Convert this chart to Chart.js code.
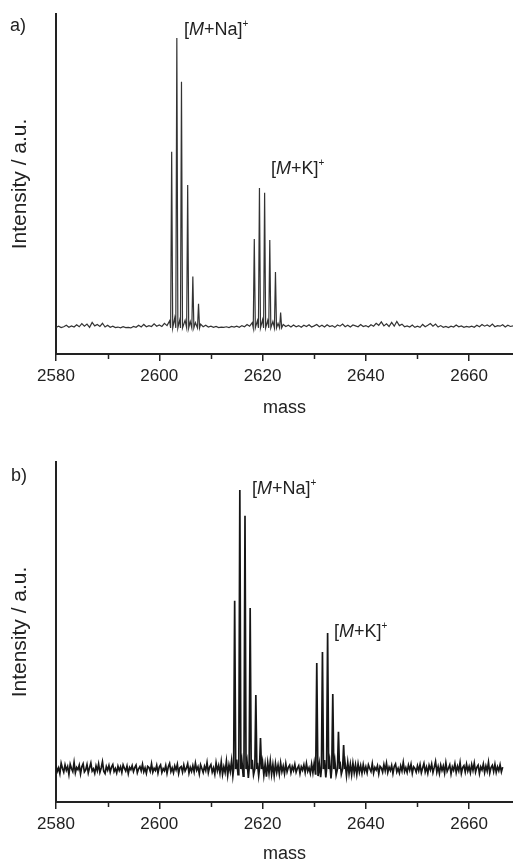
<!DOCTYPE html>
<html>
<head>
<meta charset="utf-8">
<script src="https://cdn.jsdelivr.net/npm/chart.js@4"></script>
<style>
  html, body { margin: 0; padding: 0; background: #fff; overflow: hidden; }
  body { width: 513px; height: 863px; position: relative; font-family: "Liberation Sans", Arial, sans-serif; color: #222; }
  canvas { position: absolute; left: 0; }
  #chartA { top: 0; }
  #chartB { top: 430px; }
  .lbl { position: absolute; font-size: 18px; line-height: 20px; white-space: nowrap; }
  .lbl i { font-style: italic; }
  .lbl sup { font-size: 10px; vertical-align: 8px; line-height: 0; }
</style>
</head>
<body>
<canvas id="chartA" width="513" height="430"></canvas>
<canvas id="chartB" width="513" height="435"></canvas>

<div class="lbl" style="left:10px; top:15px;">a)</div>
<div class="lbl" style="left:184px; top:19px;">[<i>M</i>+Na]<sup>+</sup></div>
<div class="lbl" style="left:271px; top:158px;">[<i>M</i>+K]<sup>+</sup></div>

<div class="lbl" style="left:11px; top:465px;">b)</div>
<div class="lbl" style="left:252px; top:478px;">[<i>M</i>+Na]<sup>+</sup></div>
<div class="lbl" style="left:334px; top:621px;">[<i>M</i>+K]<sup>+</sup></div>

<script>
// shared axis settings
const massMin = 2580;
const massMax = 2668.5;
const majorTicks = [2580, 2600, 2620, 2640, 2660];
const minorTicks = [2590, 2610, 2630, 2650];

// panel a: isotope peaks (mass, relative intensity)
const peakMassA = [2602.4, 2603.4, 2604.3, 2605.5, 2606.5, 2607.6,
                   2618.4, 2619.4, 2620.4, 2621.4, 2622.5, 2623.5];
const peakIntA  = [60.8, 100, 84.9, 49.3, 17.7, 8.3,
                   30.7, 48.3, 46.6, 30.3, 19.3, 5.3];
// panel a: baseline noise, one value every 0.5 from 2580
const noiseStepA = 0.5;
const noiseA = [
  0.2,0.6,0.1,0.4,0.9,0.2,0.7,0.3,1.1,0.4,1.5,0.6,1.3,0.2,1.9,0.7,1.2,0.5,1.6,0.3,
  0.9,0.2,0.6,0.1,0.3,0.0,0.4,0.1,0.2,0.0,0.5,0.2,0.9,0.3,1.2,0.4,0.8,0.5,1.4,0.6,
  1.0,0.5,1.6,0.8,2.4,1.5,3.5,1.8,3.0,1.6,2.6,1.2,2.2,0.9,1.8,0.6,1.3,0.4,0.9,0.3,
  0.6,0.2,0.5,0.1,0.3,0.2,0.4,0.1,0.5,0.3,0.6,0.2,0.8,0.4,1.2,0.6,1.8,1.2,2.5,1.5,
  2.8,1.8,2.6,1.6,2.2,1.0,1.6,0.7,1.2,0.5,0.9,0.3,1.0,0.4,0.8,0.2,0.9,0.5,1.1,0.3,
  0.7,1.2,0.4,0.9,0.3,1.1,0.5,0.8,0.2,1.0,0.6,1.3,0.4,0.9,0.3,1.0,0.7,0.4,1.2,0.5,
  0.8,0.3,1.1,0.6,1.6,0.9,2.1,0.7,1.4,0.5,1.9,0.6,2.2,0.8,1.3,0.4,0.7,0.3,1.0,0.2,
  0.6,0.2,1.2,0.4,0.9,1.5,0.6,1.3,0.3,0.8,0.2,0.5,0.1,0.6,0.3,1.0,0.4,0.7,0.2,0.5,
  0.3,0.6,0.2,0.9,0.4,1.2,0.6,1.0,0.5,1.3,0.4,0.8,0.6,1.1,0.3,0.9,0.5,0.7
];

// panel b
const peakMassB = [2614.6, 2615.6, 2616.6, 2617.6, 2618.7, 2619.6,
                   2630.5, 2631.6, 2632.6, 2633.6, 2634.7, 2635.7];
const peakIntB  = [60.3, 100, 90.7, 57.7, 26.5, 11.1,
                   38.0, 41.9, 48.7, 26.9, 13.4, 8.6];
// panel b: baseline noise, one value every 0.25 from 2580
const noiseStepB = 0.25;
const noiseB = [
  1.2,-0.8,0.4,-1.6,2.1,0.3,-1.1,1.5,-0.4,0.9,-1.9,1.7,0.2,-0.9,2.4,-1.3,0.6,-0.2,1.4,-1.7,
  0.8,1.9,-1.0,-0.3,1.6,-1.4,0.5,2.2,-0.7,0.1,-1.5,1.1,-0.6,1.8,-1.2,0.4,2.6,-0.8,-1.6,0.9,
  -0.4,1.3,-1.1,0.7,1.6,-0.9,0.2,-1.4,1.0,-0.5,0.8,-1.2,1.5,0.3,-0.7,1.1,-1.6,0.6,-0.2,1.2,
  -0.9,0.5,1.4,-1.3,0.1,0.9,-0.6,1.7,-1.0,0.4,-1.5,1.0,0.6,-0.8,1.9,-1.1,0.3,-0.5,1.3,-1.4,
  0.7,1.5,-1.2,0.2,-0.6,1.3,-1.5,0.8,2.0,-0.9,0.4,-1.3,1.1,-0.3,1.7,-1.6,0.5,0.9,-1.1,1.4,
  -0.7,0.3,1.9,-1.4,0.6,-0.8,1.2,-1.0,2.1,-0.4,0.8,-1.7,1.5,0.2,-1.2,1.0,-0.5,2.3,-1.3,0.7,
  1.6,-1.1,0.4,-1.8,2.2,-0.6,1.3,-1.5,2.5,-1.9,0.8,-1.2,2.8,-2.2,1.5,-0.9,3.0,-2.4,1.9,-2.8,
  3.4,-2.0,2.6,-3.1,3.0,-2.5,3.6,-1.8,2.7,-3.2,2.4,-2.6,3.3,-2.1,2.9,-3.0,2.2,-2.4,3.1,-1.7,
  2.6,-2.2,1.8,-2.7,2.3,-1.5,2.9,-1.9,1.6,-2.3,2.0,-1.2,1.4,-1.8,2.2,-0.9,1.1,-1.6,1.9,-1.0,
  0.6,1.4,-1.3,0.9,-0.5,1.7,-1.1,0.3,1.2,-1.6,0.8,-0.4,1.5,-1.2,2.0,-0.8,0.5,-1.5,1.8,-1.3,
  2.2,-1.7,2.9,-2.5,1.8,-2.9,2.6,-1.9,3.2,-3.0,2.4,-2.2,2.8,-3.4,2.0,-2.6,3.0,-2.1,2.5,-3.1,
  2.7,-1.8,2.2,-2.6,1.9,-2.3,2.4,-1.6,1.7,-2.0,2.1,-1.4,1.5,-1.9,1.8,-1.1,1.2,-1.5,1.6,-0.9,
  0.8,-1.3,1.5,0.2,-0.9,1.9,-1.4,0.6,-0.3,1.2,-1.7,1.0,0.4,-1.1,1.6,-0.6,2.1,-1.2,0.7,-0.5,
  1.3,-1.6,0.9,1.8,-1.0,0.3,-1.4,1.1,-0.7,2.4,-0.9,0.5,-1.2,1.4,-0.4,1.7,-1.5,0.8,0.2,-1.1,
  1.2,-0.6,1.6,-1.3,0.4,2.0,-1.0,0.7,-1.5,1.3,-0.3,1.8,-1.2,0.6,2.7,-1.1,0.9,-1.6,1.4,-0.5,
  1.1,-1.4,2.2,-0.8,0.3,1.5,-1.7,0.8,-0.4,1.9,-1.2,1.0,-0.6,2.3,-1.5,0.5,1.2,-1.0,1.7,-0.7,
  0.9,-1.3,1.6,-0.5,2.1,-1.1,0.6,1.4,-1.6,0.8,-0.3,1.8,-1.2,1.1,-0.7,2.4,-1.4,0.5,1.3,-0.9,
  1.7,-1.2,0.8,-0.6,1.5,-1.0,0.7
];

// build spectrum points: noise samples plus narrow triangular peaks
function buildSpectrum(noise, step, peakMass, peakInt) {
  const pts = [];
  noise.forEach((v, i) => {
    const m = massMin + i * step;
    if (peakMass.some(c => Math.abs(c - m) < 0.25)) return;
    pts.push({ x: m, y: v });
  });
  peakMass.forEach((c, i) => {
    pts.push({ x: c - 0.2, y: 0 });
    pts.push({ x: c, y: peakInt[i] });
    pts.push({ x: c + 0.2, y: 0 });
  });
  pts.sort((a, b) => a.x - b.x);
  return pts;
}

const minorTickPlugin = {
  id: 'minorTicks',
  afterDraw(chart) {
    const xs = chart.scales.x;
    const ctx = chart.ctx;
    ctx.save();
    ctx.strokeStyle = '#222';
    ctx.lineWidth = 1.5;
    minorTicks.forEach(v => {
      const px = Math.round(xs.getPixelForValue(v)) + 0.5;
      ctx.beginPath();
      ctx.moveTo(px, xs.top);
      ctx.lineTo(px, xs.top + 5);
      ctx.stroke();
    });
    ctx.restore();
  }
};

function makeChart(id, data, opts) {
  return new Chart(document.getElementById(id), {
    type: 'line',
    data: {
      datasets: [{
        data: data,
        borderColor: opts.color,
        borderWidth: opts.lineWidth,
        pointRadius: 0,
        tension: 0,
        fill: false
      }]
    },
    options: {
      responsive: false,
      animation: false,
      devicePixelRatio: 1,
      layout: { padding: { top: opts.padTop, right: 0, bottom: 0, left: 0 } },
      plugins: { legend: { display: false }, tooltip: { enabled: false } },
      scales: {
        x: {
          type: 'linear',
          min: massMin,
          max: massMax,
          afterBuildTicks: s => { s.ticks = majorTicks.map(v => ({ value: v })); },
          afterFit: s => { s.height = opts.xHeight; },
          grid: { drawOnChartArea: false, drawTicks: true, tickLength: 7, color: '#222', lineWidth: 1.5 },
          border: { display: true, color: '#222', width: 2 },
          ticks: {
            color: '#222', font: { family: 'Liberation Sans', size: 17 }, padding: 5, maxRotation: 0,
            callback: v => String(v)
          },
          title: {
            display: true, text: 'mass', color: '#222',
            font: { family: 'Liberation Sans', size: 18 },
            padding: { top: 0, bottom: opts.titlePad }
          }
        },
        y: {
          min: opts.yMin,
          max: opts.yMax,
          afterFit: s => { s.width = 56; },
          grid: { display: false },
          ticks: { display: false },
          border: { display: true, color: '#222', width: 2 },
          title: {
            display: true, text: 'Intensity / a.u.', color: '#222',
            font: { family: 'Liberation Sans', size: 21 },
            padding: { top: 8, bottom: 0 }
          }
        }
      }
    },
    plugins: [minorTickPlugin]
  });
}

makeChart('chartA', buildSpectrum(noiseA, noiseStepA, peakMassA, peakIntA), {
  color: '#333', lineWidth: 1.2, padTop: 14, xHeight: 76, titlePad: 11,
  yMin: -9, yMax: 108.3
});

makeChart('chartB', buildSpectrum(noiseB, noiseStepB, peakMassB, peakIntB), {
  color: '#161616', lineWidth: 1.7, padTop: 32, xHeight: 63, titlePad: 0,
  yMin: -11.8, yMax: 110
});
</script>
</body>
</html>
